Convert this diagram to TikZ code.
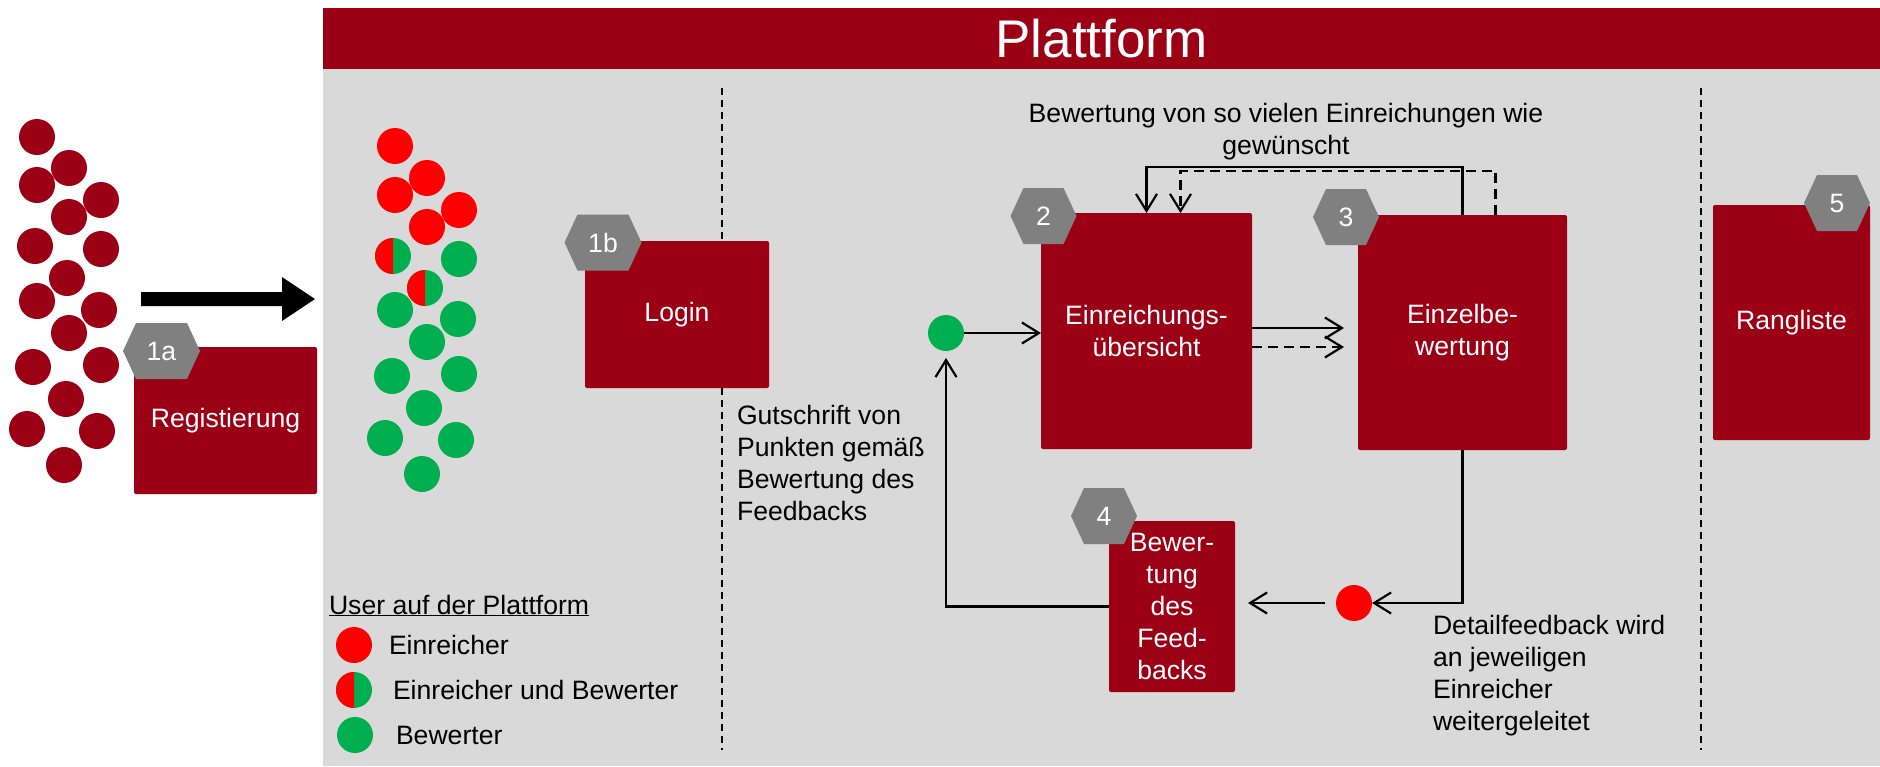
\documentclass[tikz,border=0pt]{standalone}
\usepackage{fontspec}
\setmainfont{Liberation Sans}
\usetikzlibrary{arrows.meta,calc}
\definecolor{dred}{RGB}{155,0,20}
\definecolor{bggray}{RGB}{217,217,217}
\definecolor{hexgray}{RGB}{128,128,128}
\definecolor{ured}{RGB}{255,0,0}
\definecolor{ugreen}{RGB}{0,176,80}
\begin{document}
\begin{tikzpicture}[x=1pt,y=-1pt,
  txt/.style={font=\fontsize{26.6}{32}\selectfont, inner sep=0pt, outer sep=0pt, text=black},
  box/.style={fill=dred, rounded corners=2pt, text=white, font=\fontsize{26.6}{32}\selectfont, align=center, inner sep=0pt, outer sep=0pt},
  hexn/.style={text=white, font=\fontsize{26.6}{32}\selectfont, inner sep=0pt, outer sep=0pt, minimum height=56pt,
    path picture={\fill[hexgray] (path picture bounding box.west)
      -- ([xshift=13pt]path picture bounding box.north west)
      -- ([xshift=-13pt]path picture bounding box.north east)
      -- (path picture bounding box.east)
      -- ([xshift=-13pt]path picture bounding box.south east)
      -- ([xshift=13pt]path picture bounding box.south west) -- cycle;}},
  dot/.style={circle, minimum size=36pt, inner sep=0pt, outer sep=0pt},
  conn/.style={line width=2.2pt, draw=black},
  tip/.style={-{Straight Barb[length=17pt,width=21pt]}},
  dsh/.style={dash pattern=on 10pt off 6pt},
  sep/.style={line width=1.6pt, draw=black, dash pattern=on 7pt off 5pt}
]
\useasboundingbox (0,0) rectangle (1880,766);
% platform background
\fill[bggray] (323,69) rectangle (1880,766);
\node[fill=dred, minimum width=1557pt, minimum height=61pt, inner sep=0pt, outer sep=0pt, text=white,
  font=\fontsize{53}{60}\selectfont] (hdr) at (1101.5,38.5) {Plattform};

% separators
\draw[sep] (722,88) -- (722,750);
\draw[sep] (1701,88) -- (1701,750);

% left cluster
\foreach \x/\y in {37/137,69/168,37/185,101/200,69/217,35/246,101/249,67/278,37/301,99/310,69/333,33/367,101/365,66/399,27/429,97/431,64/465}
  \fill[dred] (\x,\y) circle[radius=18pt];

% big arrow
\fill[black] (141,292) -- (282,292) -- (282,277) -- (315,299) -- (282,321) -- (282,306) -- (141,306) -- cycle;

% users on platform
\foreach \x/\y in {395/146,427/178,395/195,459/210,427/227}
  \fill[ured] (\x,\y) circle[radius=18pt];
\foreach \x/\y in {459/259,395/310,458/319,427/342,392/376,459/374,424/408,385/438,456/440,422/474}
  \fill[ugreen] (\x,\y) circle[radius=18pt];
\foreach \x/\y in {393/256,425/288}{
  \fill[ugreen] (\x,\y) circle[radius=18pt];
  \fill[ured] (\x,\y+18) arc[start angle=270,end angle=90,radius=18pt] -- cycle;
}

% boxes
\node[box, minimum width=183pt, minimum height=147pt] (b1a) at (225.5,420.5) {Registierung};
\node[box, minimum width=184pt, minimum height=147pt] (b1b) at (677,314.5) {Login};
\node[box, minimum width=211pt, minimum height=236pt] (b2) at (1146.5,331) {Einreichungs-\\übersicht};
\node[box, minimum width=209pt, minimum height=235pt] (b3) at (1462.5,332.5) {Einzelbe-\\wertung};
\node[box, minimum width=126pt, minimum height=171pt] (b4) at (1172,606.5) {Bewer-\\tung\\des\\Feed-\\backs};
\node[box, minimum width=157pt, minimum height=235pt] (b5) at (1791.5,322.5) {Rangliste};

% hexagons
\node[hexn, minimum width=77pt] (h1a) at (161.5,351) {1a};
\node[hexn, minimum width=77pt] (h1b) at (603,242.5) {1b};
\node[hexn, minimum width=66pt] (h2) at (1043.5,216) {2};
\node[hexn, minimum width=66pt] (h3) at (1346,217) {3};
\node[hexn, minimum width=66pt] (h4) at (1104,516) {4};
\node[hexn, minimum width=66pt] (h5) at (1837,203) {5};

% flow dots
\node[dot, fill=ugreen] (gd) at (946,333) {};
\node[dot, fill=ured] (rd) at (1354,603) {};

% connectors
\draw[conn,tip] (gd.east) -- (gd -| b2.west);
\draw[conn,tip,shorten >=14pt] ([yshift=3pt]b2.east) -- ([yshift=3pt]b2.east -| b3.west);
\draw[conn,tip,dsh,shorten >=14pt] ([yshift=-16pt]b2.east) -- ([yshift=-16pt]b2.east -| b3.west);
\draw[conn,tip] (b3.north) -- ++(0,-48) -| (b2.north);
\draw[conn,tip,dsh] ([xshift=33pt]b3.north) -- ++(0,-44) -| ([xshift=34pt]b2.north);
\draw[conn,tip] (b3.south) |- (rd.east);
\draw[conn,tip,shorten <=11pt,shorten >=13pt] (rd.west) -- (rd.west -| b4.east);
\draw[conn,tip,shorten >=7pt] (b4.west) -| (gd.south);

% texts
\node[txt, align=center] (tloop) at (1286,132) {Bewertung von so vielen Einreichungen wie\\gewünscht};
\node[txt, align=left, anchor=west] (tgut) at (737,462.5) {Gutschrift von\\Punkten gemäß\\Bewertung des\\Feedbacks};
\node[txt, align=left, anchor=west] (tdet) at (1433,676) {Detailfeedback wird\\an jeweiligen\\Einreicher\\weitergeleitet};

% legend
\node[txt, anchor=base west] (lgt) at (329,614) {\underline{User auf der Plattform}};
\node[dot, fill=ured] (lr) at (354,645) {};
\node[txt, anchor=base west] (l1) at (389,654) {Einreicher};
\fill[ugreen] (354,690) circle[radius=18pt];
\fill[ured] (354,708) arc[start angle=270,end angle=90,radius=18pt] -- cycle;
\node[txt, anchor=base west] (l2) at (393,699) {Einreicher und Bewerter};
\node[dot, fill=ugreen] (lg) at (355,735) {};
\node[txt, anchor=base west] (l3) at (396,744) {Bewerter};
\end{tikzpicture}
\end{document}
